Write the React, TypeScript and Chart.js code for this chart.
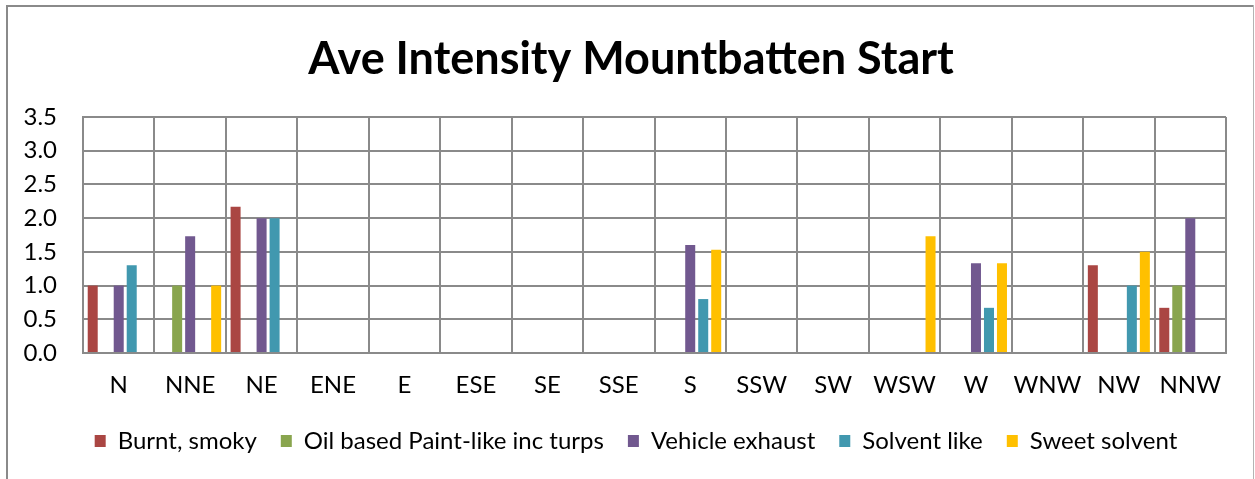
import React, { useEffect, useRef } from "react";
import { Chart, registerables } from "chart.js";

Chart.register(...registerables);

const categories = ["N", "NNE", "NE", "ENE", "E", "ESE", "SE", "SSE", "S", "SSW", "SW", "WSW", "W", "WNW", "NW", "NNW"];
const burntSmoky = [1.0, null, 2.17, null, null, null, null, null, null, null, null, null, null, null, 1.3, 0.67];
const oilPaint = [null, 1.0, null, null, null, null, null, null, null, null, null, null, null, null, null, 1.0];
const vehicleExhaust = [1.0, 1.73, 2.0, null, null, null, null, null, 1.6, null, null, null, 1.33, null, null, 2.0];
const solventLike = [1.3, null, 2.0, null, null, null, null, null, 0.8, null, null, null, 0.67, null, 1.0, null];
const sweetSolvent = [null, 1.0, null, null, null, null, null, null, 1.53, null, null, 1.73, 1.33, null, 1.5, null];
const seriesNames = ["Burnt, smoky", "Oil based Paint-like inc turps", "Vehicle exhaust", "Solvent like", "Sweet solvent"];
const seriesColors = ["#AA4643", "#89A54E", "#71588F", "#4198AF", "#FFC000"];
const titleText = "Ave Intensity Mountbatten Start";

const FONT = "Lato, 'Open Sans', sans-serif";

const framePlugin = {
  id: "frameAndTitle",
  afterLayout(chart: any) {
    if (chart.legend) {
      chart.legend.left += 19;
      chart.legend.right += 19;
    }
  },
  beforeDraw(chart: any) {
    const ctx = chart.ctx;
    ctx.save();
    ctx.fillStyle = "#ffffff";
    ctx.fillRect(0, 0, chart.width, chart.height);
    ctx.fillStyle = "#8a8a8a";
    ctx.fillRect(6, 5, 1248, 2);
    ctx.fillRect(6, 5, 2, chart.height - 5);
    ctx.fillStyle = "#b4b4b4";
    ctx.fillRect(1253, 5, 1, chart.height - 5);
    ctx.restore();
  },
  afterDraw(chart: any) {
    const ctx = chart.ctx;
    ctx.save();
    ctx.fillStyle = "#000000";
    ctx.font = `bold 45px ${FONT}`;
    ctx.textAlign = "center";
    ctx.textBaseline = "middle";
    ctx.fillText(titleText, 631, 59);
    ctx.restore();
  },
};

export default function App() {
  const ref = useRef<HTMLCanvasElement | null>(null);
  useEffect(() => {
    if (!ref.current) return;
    const data = [burntSmoky, oilPaint, vehicleExhaust, solventLike, sweetSolvent];
    const chart = new Chart(ref.current, {
      type: "bar",
      data: {
        labels: categories,
        datasets: data.map((d, i) => ({
          label: seriesNames[i],
          data: d,
          backgroundColor: seriesColors[i],
          borderWidth: 0,
          categoryPercentage: 0.91,
          barPercentage: 0.77,
        })),
      },
      options: {
        animation: false,
        responsive: false,
        maintainAspectRatio: false,
        layout: { padding: { top: 117, left: 8, right: 29, bottom: 16 } },
        plugins: {
          title: { display: false },
          tooltip: { enabled: false },
          legend: {
            position: "bottom",
            labels: {
              boxWidth: 11,
              boxHeight: 12,
              padding: 24,
              color: "#000000",
              font: { family: FONT, size: 24 },
            },
          },
        },
        scales: {
          x: {
            grid: { color: "#8a8a8a", lineWidth: 2, drawTicks: false, offset: true },
            border: { color: "#8a8a8a", width: 2 },
            ticks: { color: "#000000", font: { family: FONT, size: 24 }, padding: 18, maxRotation: 0, autoSkip: false },
            afterFit: (s: any) => { s.height = 52; },
          },
          y: {
            min: 0,
            max: 3.5,
            grid: { color: "#8a8a8a", lineWidth: 2, drawTicks: false },
            border: { color: "#8a8a8a", width: 2 },
            ticks: {
              stepSize: 0.5,
              color: "#000000",
              font: { family: FONT, size: 24 },
              padding: 26,
              callback: (v: any) => Number(v).toFixed(1),
            },
            afterFit: (s: any) => { s.width = 75; },
          },
        },
      },
      plugins: [framePlugin],
    });
    return () => chart.destroy();
  }, []);
  return (
    <div style={{ position: "absolute", left: 0, top: 0, width: 1255, height: 479 }}>
      <canvas ref={ref} width={1255} height={479} style={{ display: "block" }} />
    </div>
  );
}
